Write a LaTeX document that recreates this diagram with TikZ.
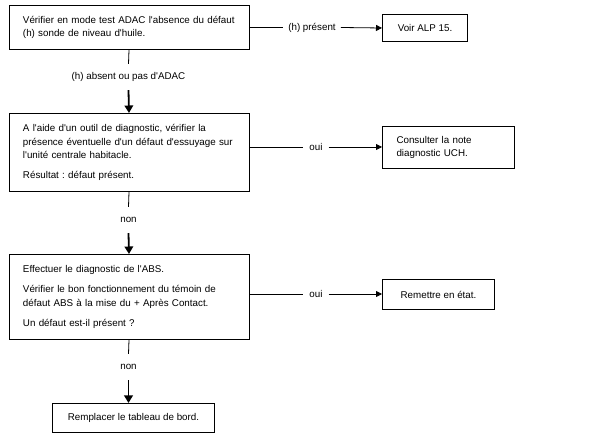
\documentclass[tikz,border=0pt]{standalone}
\usepackage{fontspec}
\newfontfamily\arialf{Liberation Sans}
\usetikzlibrary{arrows.meta}
\frenchspacing
\begin{document}
\begin{tikzpicture}[x=1pt,y=-1pt, font=\arialf\fontsize{9.8}{13.8}\selectfont\frenchspacing,
  box/.style={draw, line width=1pt, anchor=north west, inner ysep=2pt},
  lbox/.style={box, align=left, inner xsep=14pt, text width=#1},
  cbox/.style={box, align=center},
  lbl/.style={inner xsep=5pt, inner ysep=2pt},
  vlbl/.style={inner xsep=2pt, inner ysep=8.5pt, text height=7pt, text depth=2pt},
  harrow/.style={line width=0.8pt, -{Triangle[length=6pt,width=6pt]}},
  varrow/.style={line width=1.8pt, -{Triangle[length=7.5pt,width=8.5pt]}},
  link/.style={line width=0.8pt}]
\path[use as bounding box, fill=white] (0,0) rectangle (603,443);

% boxes
\node[lbox=212pt, minimum height=44pt] (a) at (8.5,5)
  {Vérifier en mode test ADAC l'absence du défaut\\(h) sonde de niveau d'huile.};
\node[cbox, minimum width=85pt, minimum height=27pt] (voir) at (382,14) {Voir ALP 15.};

\node[lbox=212pt, minimum height=78pt] (b) at (8.5,113)
  {A l'aide d'un outil de diagnostic, vérifier la\\présence éventuelle d'un défaut d'essuyage sur\\l'unité centrale habitacle.\\[6pt]Résultat : défaut présent.};
\node[lbox=104pt, minimum height=42pt] (cons) at (382,126) {Consulter la note\\diagnostic UCH.};

\node[lbox=212pt, minimum height=85pt] (c) at (8.5,254)
  {Effectuer le diagnostic de l'ABS.\\[6.5pt]Vérifier le bon fonctionnement du témoin de\\défaut ABS à la mise du + Après Contact.\\[6.5pt]Un défaut est-il présent ?};
\node[cbox, minimum width=112pt, minimum height=30pt] (rem) at (382,279) {Remettre en état.};

\node[cbox, minimum width=162pt, minimum height=29pt] (d) at (52,403) {Remplacer le tableau de bord.};

% labels
\node[lbl] (p1) at (312,27.5) {(h) présent};
\node[lbl, inner xsep=6pt] (o1) at (316,147) {oui};
\node[lbl, inner xsep=6pt] (o2) at (316,294) {oui};
\node[vlbl] (l2) at (128.5,77) {(h) absent ou pas d'ADAC};
\node[vlbl] (l3) at (128.5,220) {non};
\node[vlbl] (l4) at (128.5,367) {non};

% connectors
\draw[link] (a.east |- p1.west) -- (p1.west);
\draw[harrow] (p1.east) -- (voir.west);
\draw[link] (b.east |- o1.west) -- (o1.west);
\draw[harrow] (o1.east) -- (o1.east -| cons.west);
\draw[link] (c.east |- o2.west) -- (o2.west);
\draw[harrow] (o2.east) -- (o2.east -| rem.west);

\draw[link] (a.south) -- (l2.north);
\draw[varrow] (l2.south) -- (b.north);
\draw[link] (b.south) -- (l3.north);
\draw[varrow] (l3.south) -- (c.north);
\draw[link] (c.south) -- (l4.north);
\draw[varrow] (l4.south) -- (l4.south |- d.north);
\end{tikzpicture}
\end{document}
